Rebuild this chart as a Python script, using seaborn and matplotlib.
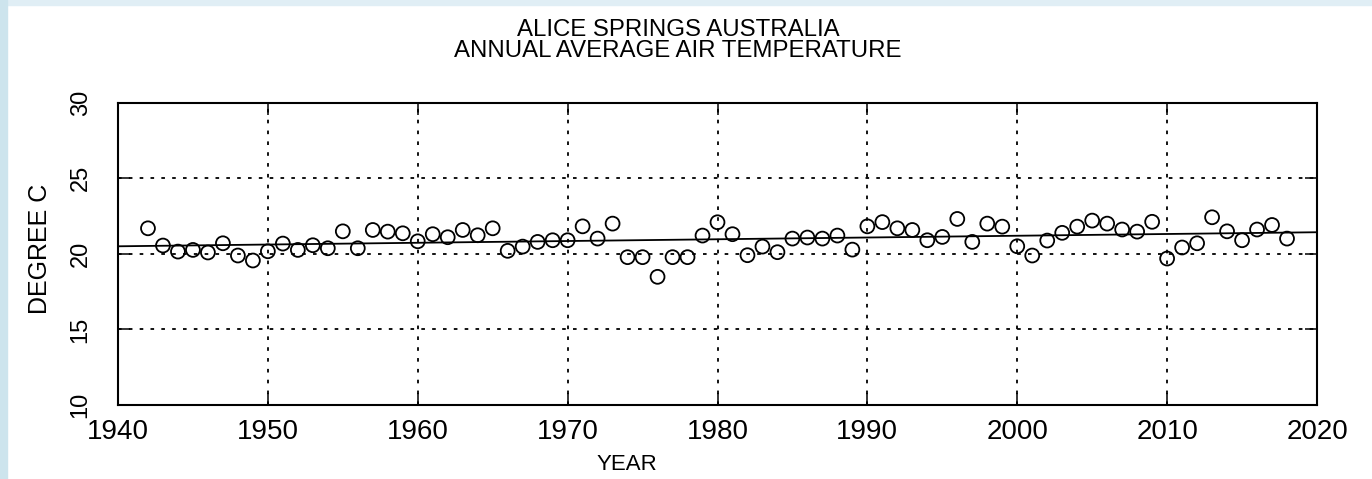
import pandas as pd
import matplotlib
matplotlib.use('Agg')
import matplotlib.pyplot as plt
import seaborn as sns
from matplotlib.patches import Rectangle

# Annual average air temperature, Alice Springs
years = list(range(1942, 2019))
temps = [21.69, 20.55, 20.15, 20.26, 20.09, 20.70, 19.89, 19.56, 20.17, 20.68,
         20.26, 20.57, 20.37, 21.49, 20.37, 21.58, 21.47, 21.36, 20.83, 21.30,
         21.10, 21.58, 21.23, 21.69, 20.20, 20.48, 20.79, 20.90, 20.90, 21.82,
         21.01, 22.00, 19.78, 19.78, 18.48, 19.78, 19.78, 21.21, 22.09, 21.30,
         19.91, 20.48, 20.11, 21.01, 21.08, 21.01, 21.21, 20.28, 21.82, 22.10,
         21.69, 21.58, 20.90, 21.12, 22.31, 20.79, 22.00, 21.80, 20.50, 19.89,
         20.88, 21.39, 21.80, 22.20, 22.00, 21.61, 21.47, 22.12, 19.69, 20.42,
         20.70, 22.42, 21.49, 20.90, 21.61, 21.91, 21.01]

# linear trend line end points
trend_years = [1940, 2020]
trend_temps = [20.50, 21.43]

x_ticks = [1940, 1950, 1960, 1970, 1980, 1990, 2000, 2010, 2020]
y_ticks = [10, 15, 20, 25, 30]

df = pd.DataFrame({'Year': years, 'Temp': temps})
trend = pd.DataFrame({'Year': trend_years, 'Temp': trend_temps})

sns.set_style('ticks')
plt.rcParams['font.family'] = ['Liberation Sans', 'DejaVu Sans']
plt.rcParams['text.color'] = 'black'
plt.rcParams['axes.labelcolor'] = 'black'

fig = plt.figure(figsize=(13.72, 4.79), dpi=100)
W, H = 1372, 479
# light blue frame on top and left
fig.patches.append(Rectangle((0, 1 - 5 / H), 1, 5 / H, transform=fig.transFigure,
                             color='#e0eef5', zorder=0))
fig.patches.append(Rectangle((0, 0), 7 / W, 1, transform=fig.transFigure,
                             color='#cde4ed', zorder=0))

ax = fig.add_axes([118 / W, 1 - 405 / H, (1317 - 118) / W, (405 - 102.7) / H])

ax.grid(True, color='black', linestyle=(0, (2, 4)), linewidth=1.3)
sns.lineplot(data=trend, x='Year', y='Temp', color='black', linewidth=1.3, ax=ax)
sns.scatterplot(data=df, x='Year', y='Temp', s=100, facecolor='none',
                edgecolor='black', linewidth=1.3, ax=ax, zorder=3)

ax.set_xlim(1940, 2020)
ax.set_ylim(10, 30)
ax.set_xticks(x_ticks)
ax.set_yticks(y_ticks)
ax.tick_params(direction='in', length=8.5, width=1.1, top=True, right=True,
               colors='black')
ax.tick_params(axis='x', labelsize=20, pad=10)
ax.tick_params(axis='y', labelsize=17, pad=19, labelrotation=90)
for lab in ax.get_yticklabels():
    lab.set_va('center')
for sp in ax.spines.values():
    sp.set_linewidth(1.5)
    sp.set_color('black')

ax.set_xlabel('YEAR', fontsize=16)
ax.set_ylabel('DEGREE C', fontsize=18)
ax.xaxis.set_label_coords((627 - 118) / 1199, (405 - 465) / 302.6)
ax.yaxis.set_label_coords((40 - 118) / 1199, (405 - 249) / 302.6)
ax.xaxis.label.set_va('center')
ax.yaxis.label.set_va('center')

fig.text(678 / W, 1 - 40.5 / H, 'ALICE SPRINGS AUSTRALIA\nANNUAL AVERAGE AIR TEMPERATURE',
         ha='center', va='center', fontsize=17.3, linespacing=0.92)

plt.savefig('out.png', dpi=100)
